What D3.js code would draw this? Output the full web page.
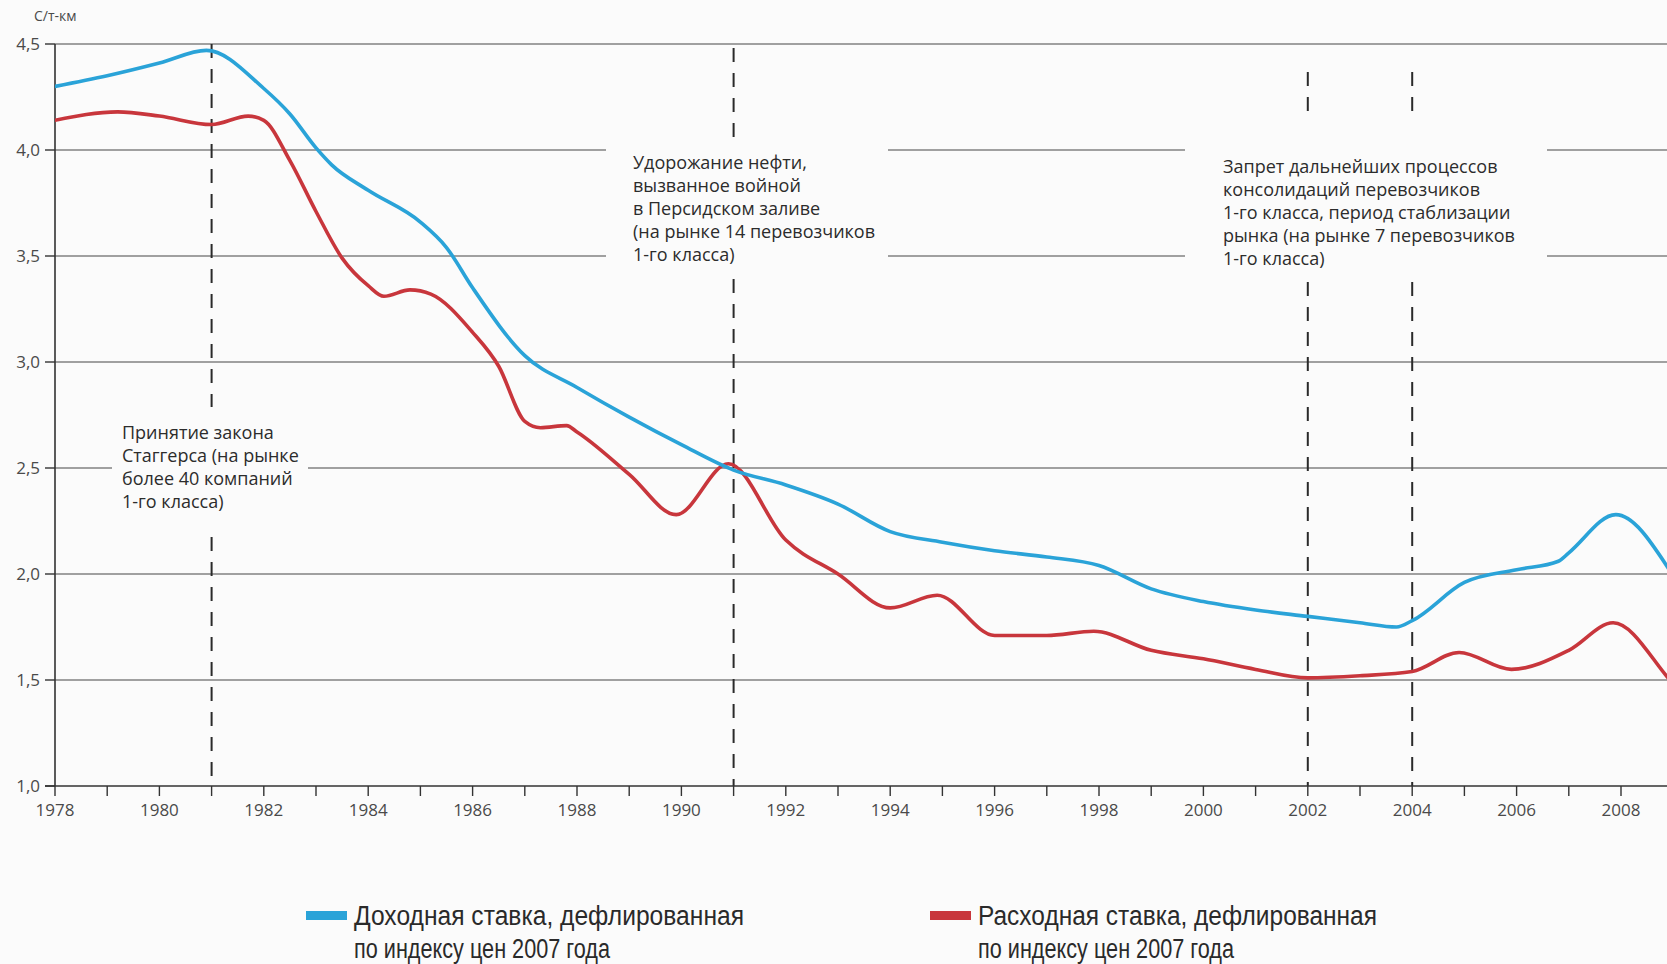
<!DOCTYPE html>
<html>
<head>
<meta charset="utf-8">
<script src="https://cdn.jsdelivr.net/npm/d3@7"></script>
<style>
body { margin: 0; background: #fbfbfb; }
svg { display: block; font-family: 'Open Sans', sans-serif; }
.grid { stroke: #474747; stroke-width: 1.2; fill: none; }
.axis-line { stroke: #333; stroke-width: 1.6; fill: none; }
.tick { stroke: #333; stroke-width: 1.4; }
.tick-label { fill: #4a4a4a; font-size: 17px; }
.event { stroke: #2a2a2a; stroke-width: 2; stroke-dasharray: 14, 11; fill: none; }
.note { fill: #2c2c2c; font-size: 18px; }
.legend-label { fill: #2a2a2a; font-family: 'Liberation Sans Narrow', 'Liberation Sans', sans-serif; font-size: 27px; }
.series { fill: none; stroke-width: 3.6; stroke-linejoin: round; stroke-linecap: round; }
</style>
</head>
<body>
<svg id="chart"></svg>
<script>
'use strict';

// доходная ставка (синяя)
var revenue_years = [1978, 1979, 1980, 1980.9, 1982, 1982.5, 1983, 1983.3, 1984, 1985, 1985.5, 1986, 1987, 1988, 1989, 1990, 1991, 1992, 1993, 1994, 1995, 1996, 1997, 1998, 1999, 2000, 2001, 2002, 2003, 2003.7, 2004, 2005, 2006, 2006.8, 2007, 2007.9, 2008.9, 2009.1];
var revenue_values = [4.30, 4.35, 4.41, 4.47, 4.29, 4.17, 4.01, 3.93, 3.81, 3.66, 3.54, 3.35, 3.03, 2.88, 2.74, 2.61, 2.49, 2.42, 2.33, 2.20, 2.15, 2.11, 2.08, 2.04, 1.93, 1.87, 1.83, 1.80, 1.77, 1.75, 1.78, 1.96, 2.02, 2.06, 2.10, 2.28, 2.03, 1.95];

// расходная ставка (красная)
var cost_years = [1978, 1979.2, 1980, 1981, 1981.7, 1982, 1982.5, 1983, 1983.5, 1984, 1984.3, 1984.8, 1985.2, 1986, 1986.5, 1987, 1987.3, 1987.8, 1988, 1989, 1989.9, 1990.9, 1992, 1993, 1994, 1994.9, 1996, 1997, 1997.9, 1999, 2000, 2001, 2002, 2003, 2004, 2004.9, 2005.9, 2007, 2007.85, 2008.9, 2009.1];
var cost_values = [4.14, 4.18, 4.16, 4.12, 4.16, 4.14, 3.95, 3.71, 3.49, 3.36, 3.31, 3.34, 3.32, 3.14, 2.98, 2.72, 2.69, 2.70, 2.67, 2.47, 2.28, 2.52, 2.16, 2.00, 1.84, 1.90, 1.71, 1.71, 1.73, 1.64, 1.60, 1.55, 1.51, 1.52, 1.54, 1.63, 1.55, 1.64, 1.77, 1.51, 1.45];

var y_ticks = [1.0, 1.5, 2.0, 2.5, 3.0, 3.5, 4.0, 4.5];
var tick_years = d3.range(1978, 2009);
var label_years = [1978, 1980, 1982, 1984, 1986, 1988, 1990, 1992, 1994, 1996, 1998, 2000, 2002, 2004, 2006, 2008];
var event_years = [1981, 1991, 2002, 2004];
var unit_label = 'С/т-км';

var note_lines = [
    ['Принятие закона', 'Стаггерса (на рынке', 'более 40 компаний', '1-го класса)'],
    ['Удорожание нефти,', 'вызванное войной', 'в Персидском заливе', '(на рынке 14 перевозчиков', '1-го класса)'],
    ['Запрет дальнейших процессов', 'консолидаций перевозчиков', '1-го класса, период стаблизации', 'рынка (на рынке 7 перевозчиков', '1-го класса)']
];

var legend_lines = [
    ['Доходная ставка, дефлированная', 'по индексу цен 2007 года'],
    ['Расходная ставка, дефлированная', 'по индексу цен 2007 года']
];

var width = 1667;
var height = 964;
var blue = '#2aa3d8';
var red = '#c8363c';

var svg = d3.select('#chart').attr('width', width).attr('height', height);

var x = d3.scaleLinear().domain([1978, 2009]).range([55, 55 + 31 * 52.2]);
var y = d3.scaleLinear().domain([1, 4.5]).range([786, 44]);

// разрывы сетки под подписями
var grid_gaps = { '4': [[606, 888], [1185, 1547]], '3.5': [[606, 888], [1185, 1547]], '2.5': [[112, 308]] };

y_ticks.slice(1).forEach(function (v) {
    var gaps = grid_gaps[String(v)] || [];
    var start = x(1978);
    var segs = [];
    gaps.forEach(function (g) { segs.push([start, g[0]]); start = g[1]; });
    segs.push([start, width]);
    segs.forEach(function (s) {
        svg.append('line').attr('class', 'grid')
            .attr('x1', s[0]).attr('x2', s[1]).attr('y1', y(v)).attr('y2', y(v));
    });
});

// пунктирные линии событий
var event_segments = [
    [[44, 407], [537, 786]],
    [[48, 138], [279, 786]],
    [[72, 122], [282, 786]],
    [[72, 122], [282, 786]]
];
event_years.forEach(function (yr, i) {
    event_segments[i].forEach(function (s) {
        svg.append('line').attr('class', 'event')
            .attr('x1', x(yr)).attr('x2', x(yr)).attr('y1', s[0]).attr('y2', s[1]);
    });
});

// оси
svg.append('line').attr('class', 'axis-line')
    .attr('x1', x(1978)).attr('x2', x(1978)).attr('y1', y(4.5)).attr('y2', y(1));
svg.append('line').attr('class', 'axis-line')
    .attr('x1', x(1978) - 10).attr('x2', width).attr('y1', y(1)).attr('y2', y(1));

svg.selectAll('.ytick').data(y_ticks).enter().append('line').attr('class', 'tick')
    .attr('x1', x(1978) - 10).attr('x2', x(1978)).attr('y1', function (d) { return y(d); }).attr('y2', function (d) { return y(d); });

svg.selectAll('.ylabel').data(y_ticks).enter().append('text').attr('class', 'tick-label')
    .attr('text-anchor', 'end').attr('x', 40).attr('y', function (d) { return y(d) + 6; })
    .text(function (d) { return d3.format('.1f')(d).replace('.', ','); });

svg.selectAll('.xtick').data(tick_years).enter().append('line').attr('class', 'tick')
    .attr('x1', function (d) { return x(d); }).attr('x2', function (d) { return x(d); })
    .attr('y1', y(1)).attr('y2', y(1) + 10);

svg.selectAll('.xlabel').data(label_years).enter().append('text').attr('class', 'tick-label')
    .attr('text-anchor', 'middle').attr('x', function (d) { return x(d); }).attr('y', 816)
    .text(function (d) { return d; });

svg.append('text').attr('class', 'tick-label').style('font-size', '14px')
    .attr('x', 34).attr('y', 21).text(unit_label);

// кривые
svg.append('clipPath').attr('id', 'plot-clip').append('rect')
    .attr('x', x(1978)).attr('y', 0).attr('width', width - x(1978)).attr('height', y(1));

var line = d3.line().curve(d3.curveMonotoneX)
    .x(function (d) { return x(d[0]); }).y(function (d) { return y(d[1]); });

svg.append('path').attr('class', 'series').attr('clip-path', 'url(#plot-clip)')
    .attr('stroke', red).attr('d', line(d3.zip(cost_years, cost_values)));
svg.append('path').attr('class', 'series').attr('clip-path', 'url(#plot-clip)')
    .attr('stroke', blue).attr('d', line(d3.zip(revenue_years, revenue_values)));

// подписи событий
var note_pos = [[122, 439], [633, 169], [1223, 173]];
note_lines.forEach(function (lines, i) {
    svg.append('text').attr('class', 'note')
        .selectAll('tspan').data(lines).enter().append('tspan')
        .attr('x', note_pos[i][0]).attr('y', function (d, j) { return note_pos[i][1] + j * 23; })
        .text(function (d) { return d; });
});

// легенда (узкий шрифт, как в оригинале)
var legend_x = [306, 930];
var legend_colors = [blue, red];
var legend_widths = [[390, 256], [399, 256]];
legend_lines.forEach(function (lines, i) {
    svg.append('rect').attr('x', legend_x[i]).attr('y', 911).attr('width', 41).attr('height', 9)
        .attr('fill', legend_colors[i]);
    svg.append('text').attr('class', 'legend-label')
        .selectAll('tspan').data(lines).enter().append('tspan')
        .attr('x', legend_x[i] + 48).attr('y', function (d, j) { return 925 + j * 33; })
        .attr('textLength', function (d, j) { return legend_widths[i][j]; })
        .attr('lengthAdjust', 'spacingAndGlyphs')
        .text(function (d) { return d; });
});
</script>
</body>
</html>
